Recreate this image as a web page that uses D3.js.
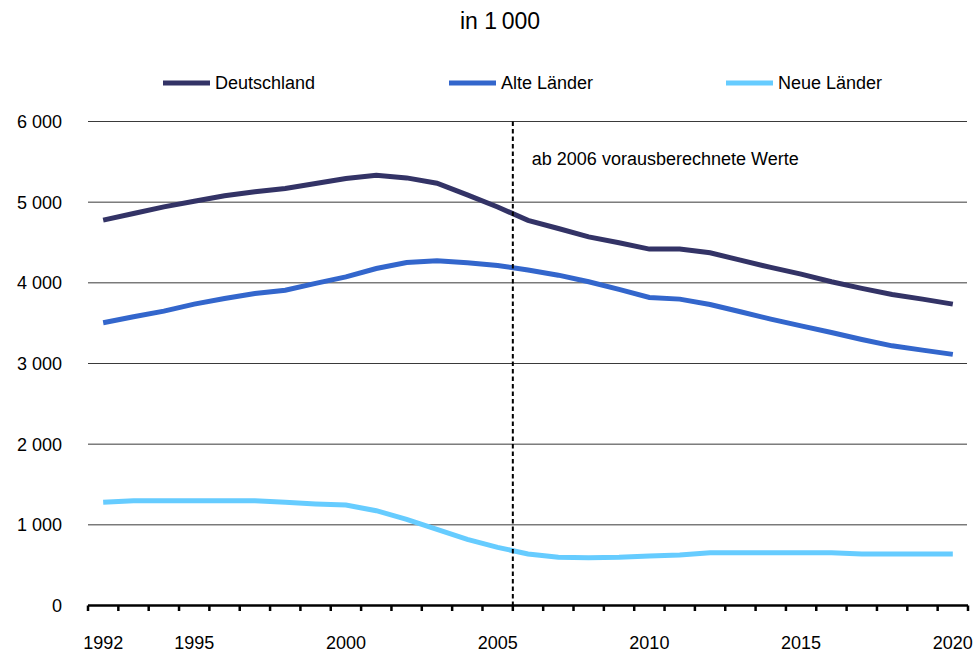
<!DOCTYPE html>
<html>
<head>
<meta charset="utf-8">
<script src="https://cdn.jsdelivr.net/npm/d3@7"></script>
<style>
  body { margin: 0; background: #fff; }
  svg text { font-family: "Liberation Sans", Arial, sans-serif; fill: #000; }
</style>
</head>
<body>
<svg id="chart" width="978" height="652"></svg>
<script>
// Werte (in 1 000), ab 2006 vorausberechnet
const years = [1992, 1993, 1994, 1995, 1996, 1997, 1998, 1999, 2000, 2001,
  2002, 2003, 2004, 2005, 2006, 2007, 2008, 2009, 2010, 2011,
  2012, 2013, 2014, 2015, 2016, 2017, 2018, 2019, 2020];
const deutschland = [4777, 4860, 4942, 5012, 5080, 5128, 5170, 5232, 5294, 5335,
  5301, 5235, 5090, 4940, 4775, 4674, 4570, 4496, 4418, 4418,
  4372, 4281, 4191, 4108, 4013, 3931, 3856, 3798, 3736];
const alteLaender = [3505, 3579, 3649, 3736, 3806, 3868, 3909, 3993, 4074, 4178,
  4253, 4273, 4248, 4215, 4160, 4095, 4013, 3918, 3819, 3798,
  3732, 3641, 3550, 3467, 3385, 3298, 3219, 3166, 3113];
const neueLaender = [1279, 1299, 1299, 1299, 1299, 1299, 1279, 1258, 1245, 1175,
  1068, 944, 820, 721, 638, 597, 592, 597, 613, 626,
  654, 654, 654, 654, 654, 638, 638, 638, 638];
const seriesNames = ["Deutschland", "Alte Länder", "Neue Länder"];
const yTicks = [0, 1000, 2000, 3000, 4000, 5000, 6000];
const yTickLabels = ["0", "1 000", "2 000", "3 000", "4 000", "5 000", "6 000"];
const xLabelYears = [1992, 1995, 2000, 2005, 2010, 2015, 2020];
const forecastFrom = 2006;

const colors = ["#333366", "#3366CC", "#66CCFF"];
const svg = d3.select("#chart");

const x = d3.scaleBand().domain(years).range([88, 968]).padding(0);
const y = d3.scaleLinear().domain([0, 6000]).range([605.5, 121.5]);
const cx = d => x(d) + x.bandwidth() / 2;

// titel
svg.append("text")
  .attr("x", 500).attr("y", 29)
  .attr("text-anchor", "middle")
  .style("font-size", "23px")
  .text("in 1\u2009000");

// gitterlinien
svg.append("g")
  .selectAll("line")
  .data(yTicks.filter(d => d > 0))
  .join("line")
  .attr("x1", 88).attr("x2", 967)
  .attr("y1", d => y(d)).attr("y2", d => y(d))
  .attr("stroke", "#3a3a3a")
  .attr("stroke-width", 1);

// y-beschriftung
svg.append("g")
  .selectAll("text")
  .data(yTicks)
  .join("text")
  .attr("x", 62)
  .attr("y", d => y(d) + 6.5)
  .attr("text-anchor", "end")
  .style("font-size", "18px")
  .text((d, i) => yTickLabels[i]);

// x-achse mit strichen zwischen den jahren
const xAxis = svg.append("g");
xAxis.append("line")
  .attr("x1", 88).attr("x2", 968)
  .attr("y1", y(0)).attr("y2", y(0))
  .attr("stroke", "#000").attr("stroke-width", 2.5);
xAxis.selectAll(".tick")
  .data(years.concat([null]))
  .join("line")
  .attr("class", "tick")
  .attr("x1", (d, i) => i < years.length ? x(d) : x.range()[1])
  .attr("x2", (d, i) => i < years.length ? x(d) : x.range()[1])
  .attr("y1", y(0)).attr("y2", y(0) + 5.5)
  .attr("stroke", "#000").attr("stroke-width", 2.5);
xAxis.selectAll("text")
  .data(xLabelYears)
  .join("text")
  .attr("x", d => cx(d))
  .attr("y", 649)
  .attr("text-anchor", "middle")
  .style("font-size", "18px")
  .text(d => d);

// linien
const line = d3.line()
  .x((d, i) => cx(years[i]))
  .y(d => y(d));

svg.append("g")
  .selectAll("path")
  .data([deutschland, alteLaender, neueLaender])
  .join("path")
  .attr("d", line)
  .attr("fill", "none")
  .attr("stroke", (d, i) => colors[i])
  .attr("stroke-width", 5);

// grenze prognose
svg.append("line")
  .attr("x1", x(forecastFrom)).attr("x2", x(forecastFrom))
  .attr("y1", y(6000)).attr("y2", y(0))
  .attr("stroke", "#000")
  .attr("stroke-width", 2)
  .attr("stroke-dasharray", "4.5,3");

svg.append("text")
  .attr("x", x(forecastFrom) + 19).attr("y", 165)
  .style("font-size", "18px")
  .text("ab 2006 vorausberechnete Werte");

// legende
const legendX = [163, 449, 726];
const legend = svg.append("g")
  .selectAll("g")
  .data(seriesNames)
  .join("g")
  .attr("transform", (d, i) => `translate(${legendX[i]},83)`);
legend.append("line")
  .attr("x1", 0).attr("x2", 47)
  .attr("stroke", (d, i) => colors[i])
  .attr("stroke-width", 5);
legend.append("text")
  .attr("x", 52).attr("y", 5.5)
  .style("font-size", "18px")
  .text(d => d);
</script>
</body>
</html>
